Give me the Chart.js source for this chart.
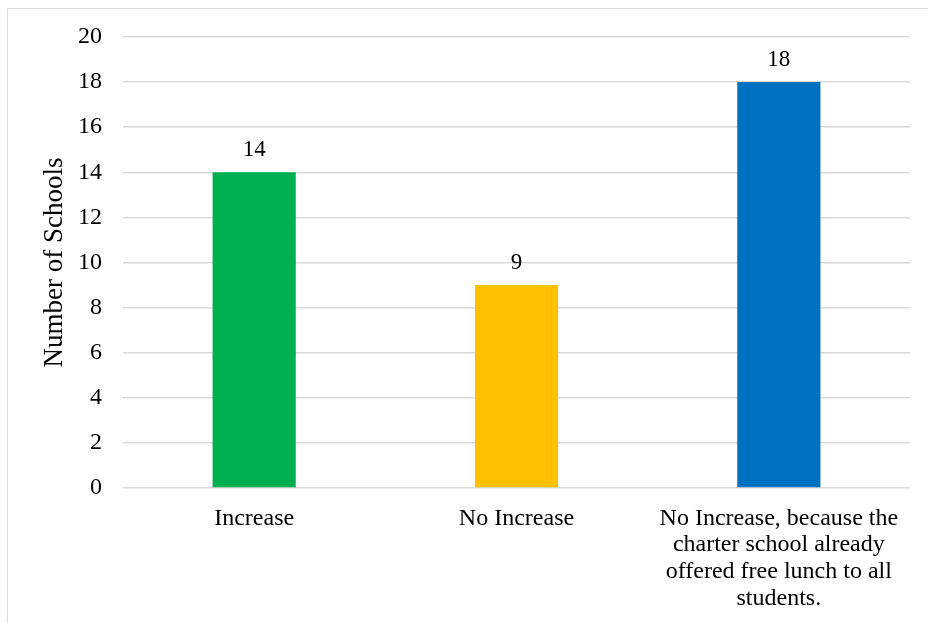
<!DOCTYPE html>
<html>
<head>
<meta charset="utf-8">
<script src="https://cdn.jsdelivr.net/npm/chart.js@4/dist/chart.umd.min.js"></script>
<style>
  html, body { margin: 0; padding: 0; background: #fff; overflow: hidden; }
  #frame {
    position: absolute; left: 7px; top: 8px; width: 940px; height: 700px;
    border: 1.5px solid #d9d9d9; box-sizing: border-box;
  }
  #wrap { position: absolute; left: 0; top: 0; width: 928px; height: 623px; }
</style>
</head>
<body>
<div id="frame"></div>
<div id="wrap"><canvas id="chart" width="928" height="623"></canvas></div>
<script>
// chart values
const categories = [
    'Increase',
    'No Increase',
    ['No Increase, because the', 'charter school already', 'offered free lunch to all', 'students.']
];
const schoolCounts = [14, 9, 18];
const yTicks = [0, 2, 4, 6, 8, 10, 12, 14, 16, 18, 20];

const barColors = ['#00b050', '#ffc000', '#0070c0'];
const fontFamily = '"Liberation Serif", "Times New Roman", serif';

// draws the number above each bar
const valueLabels = {
    id: 'valueLabels',
    afterDatasetsDraw(chart) {
        const ctx = chart.ctx;
        const meta = chart.getDatasetMeta(0);
        ctx.save();
        ctx.font = '23px ' + fontFamily;
        ctx.fillStyle = '#000';
        ctx.textAlign = 'center';
        ctx.textBaseline = 'alphabetic';
        meta.data.forEach((bar, i) => {
            ctx.fillText(String(schoolCounts[i]), bar.x, bar.y - 16);
        });
        ctx.restore();
    }
};

const ctx = document.getElementById('chart').getContext('2d');
new Chart(ctx, {
    type: 'bar',
    data: {
        labels: categories,
        datasets: [{
            data: schoolCounts,
            backgroundColor: barColors,
            categoryPercentage: 1,
            barPercentage: 0.317
        }]
    },
    options: {
        responsive: false,
        animation: false,
        layout: { padding: { left: 0, right: 18, top: 37, bottom: 0 } },
        plugins: {
            legend: { display: false },
            tooltip: { enabled: false }
        },
        scales: {
            x: {
                grid: { display: false },
                border: { display: false },
                ticks: {
                    color: '#000',
                    padding: 9,
                    maxRotation: 0,
                    autoSkip: false,
                    font: { family: fontFamily, size: 24, lineHeight: 1.11 }
                },
                afterFit(scale) { scale.height = 135; }
            },
            y: {
                min: 0,
                max: 20,
                afterBuildTicks(scale) {
                    scale.ticks = yTicks.map(v => ({ value: v }));
                },
                grid: { color: '#d9d9d9', lineWidth: 1.5, drawTicks: false },
                border: { display: false },
                ticks: {
                    color: '#000',
                    padding: 21,
                    font: { family: fontFamily, size: 24 }
                },
                title: {
                    display: true,
                    text: 'Number of Schools',
                    color: '#000',
                    padding: { top: 39, bottom: 0 },
                    font: { family: fontFamily, size: 27 }
                },
                afterFit(scale) { scale.width = 123; }
            }
        }
    },
    plugins: [valueLabels]
});
</script>
</body>
</html>
